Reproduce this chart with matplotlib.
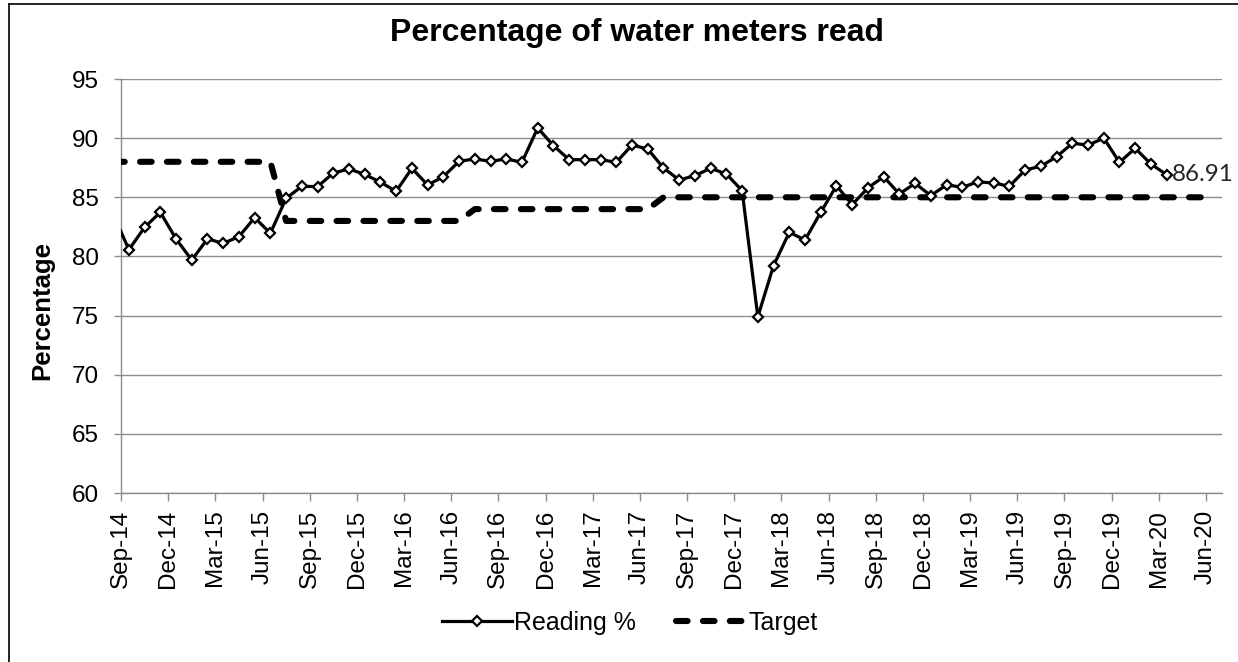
import matplotlib
matplotlib.use('Agg')
import matplotlib.pyplot as plt
from matplotlib.lines import Line2D
import numpy as np

plt.rcParams['font.family'] = ['Liberation Sans', 'DejaVu Sans']

# ---- data ----
# monthly reading %, Aug-14 .. Mar-20 (Aug-14 lies just left of the axis)
reading = [83.6,
           80.57, 82.46, 83.73, 81.48,
           79.70, 81.48, 81.11, 81.67, 83.28, 81.96, 84.91, 85.93, 85.90, 87.05, 87.39, 86.94,
           86.27, 85.51, 87.45, 86.04, 86.74, 88.04, 88.24, 88.04, 88.24, 87.96, 90.86, 89.37,
           88.18, 88.18, 88.18, 87.96, 89.42, 89.08, 87.48, 86.46, 86.83, 87.45, 86.97, 85.56,
           74.90, 79.22, 82.04, 81.39, 83.73, 85.98, 84.38, 85.79, 86.74, 85.28, 86.18, 85.14,
           86.05, 85.85, 86.30, 86.21, 85.93, 87.31, 87.62, 88.43, 89.56, 89.42, 89.99, 87.96,
           89.14, 87.81, 86.91]
# monthly target, Aug-14 .. Jun-20
target = [88, 88, 88, 88, 88,
          88, 88, 88, 88, 88, 88, 83, 83, 83, 83, 83, 83,
          83, 83, 83, 83, 83, 83, 84, 84, 84, 84, 84, 84,
          84, 84, 84, 84, 84, 84, 85, 85, 85, 85, 85, 85,
          85, 85, 85, 85, 85, 85, 85, 85, 85, 85, 85, 85,
          85, 85, 85, 85, 85, 85, 85, 85, 85, 85, 85, 85,
          85, 85, 85, 85, 85, 85]
tick_labels = ['Sep-14', 'Dec-14', 'Mar-15', 'Jun-15', 'Sep-15', 'Dec-15', 'Mar-16', 'Jun-16',
               'Sep-16', 'Dec-16', 'Mar-17', 'Jun-17', 'Sep-17', 'Dec-17', 'Mar-18', 'Jun-18',
               'Sep-18', 'Dec-18', 'Mar-19', 'Jun-19', 'Sep-19', 'Dec-19', 'Mar-20', 'Jun-20']
n_months_axis = 70          # Sep-14 .. Jun-20 slots
first_month_offset = -1     # series start at Aug-14

W, H = 1238, 662
fig = plt.figure(figsize=(W / 100, H / 100), dpi=100)
ax = fig.add_axes([121 / W, 1 - 493 / H, (1221.7 - 121) / W, (493 - 79) / H])

grey = '#8c8c8c'
rx = np.arange(len(reading)) + first_month_offset + 0.5
tx = np.arange(len(target)) + first_month_offset + 0.5

ax.plot(tx, target, color='black', lw=4.4, ls=(0, (1.9, 2.5)), dash_capstyle='round',
        solid_joinstyle='round', label='Target', zorder=3)
ax.plot(rx, reading, color='black', lw=2.3, marker='D', ms=5.2, mfc='white', mec='black',
        mew=1.6, label='Reading %', zorder=4)

ax.set_xlim(0, n_months_axis)
ax.set_ylim(60, 95)
ax.set_yticks(np.arange(60, 96, 5))
ax.set_xticks(np.arange(0, n_months_axis, 3))
ax.set_xticklabels(tick_labels, rotation=90)

ax.tick_params(axis='x', direction='out', length=6, width=1, color=grey, labelsize=17.5, pad=6)
ax.tick_params(axis='y', direction='out', length=5, width=1, color=grey, labelsize=17.5, pad=11)
ax.yaxis.grid(True, color=grey, lw=1)
ax.set_axisbelow(True)
for s in ['top', 'right']:
    ax.spines[s].set_visible(False)
for s in ['left', 'bottom']:
    ax.spines[s].set_color(grey)
    ax.spines[s].set_linewidth(1)

ax.annotate(f'{reading[-1]:.2f}', (rx[-1], reading[-1]), xytext=(4, 0),
            textcoords='offset points', ha='left', va='center', fontsize=17.5,
            family=['Lato', 'DejaVu Sans'], color='#262626', annotation_clip=False)

fig.text(636.5 / W, 1 - 33 / H, 'Percentage of water meters read', ha='center', va='center',
         fontsize=23, fontweight='bold')
fig.text(42 / W, 1 - 310 / H, 'Percentage', rotation=90, ha='center', va='center',
         fontsize=18.5, fontweight='bold')

h, l = ax.get_legend_handles_labels()
order = [1, 0]
fig.legend([h[i] for i in order], [l[i] for i in order], loc='center',
           bbox_to_anchor=(630 / W, 1 - 623 / H), ncol=2, frameon=False, fontsize=18,
           handlelength=2.8, handletextpad=0.1, columnspacing=1.6)

# outer frame (left and top edges visible in the reference)
fig.add_artist(Line2D([8.5 / W, 8.5 / W], [0, 1 - 3.5 / H], transform=fig.transFigure,
                      color='black', lw=1.2))
fig.add_artist(Line2D([8.5 / W, 1], [1 - 3.5 / H, 1 - 3.5 / H], transform=fig.transFigure,
                      color='black', lw=1.2))

fig.savefig('out.png', dpi=100)
